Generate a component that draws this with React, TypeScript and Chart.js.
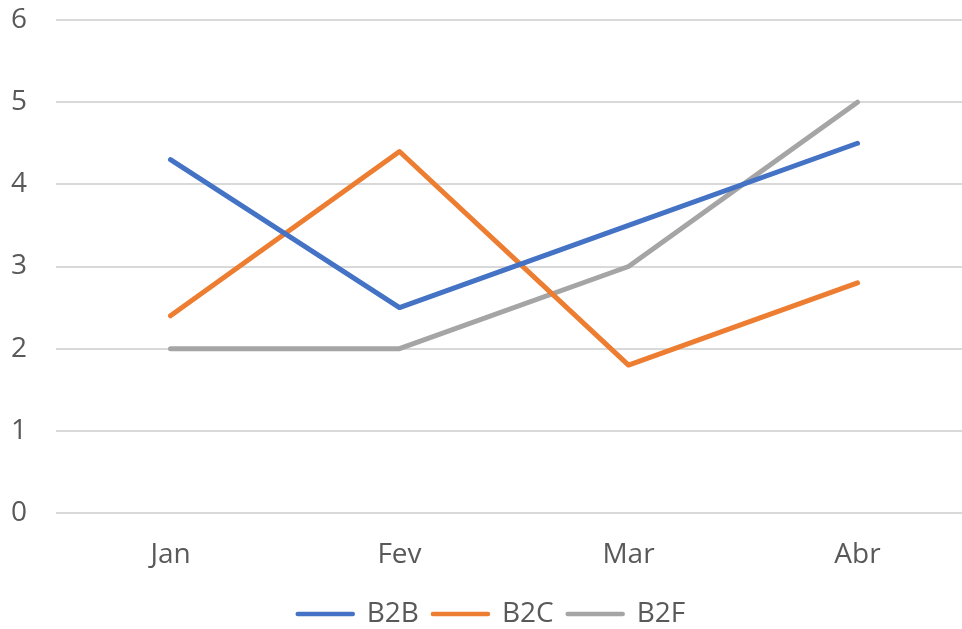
import React, { useEffect, useRef } from "react";
import { Chart, registerables } from "chart.js";

Chart.register(...registerables);

const categories = ["Jan", "Fev", "Mar", "Abr"];
const b2b = [4.3, 2.5, 3.5, 4.5];
const b2c = [2.4, 4.4, 1.8, 2.8];
const b2f = [2, 2, 3, 5];
const yTicks = [0, 1, 2, 3, 4, 5, 6];

const FONT = "'Open Sans', sans-serif";
const TEXT = "#595959";

export default function App() {
  const ref = useRef<HTMLCanvasElement | null>(null);
  useEffect(() => {
    if (!ref.current) return;
    const mk = (label: string, data: number[], color: string) => ({
      label,
      data,
      borderColor: color,
      backgroundColor: color,
      borderWidth: 5,
      borderCapStyle: "round" as const,
      borderJoinStyle: "round" as const,
      pointRadius: 0,
      pointHoverRadius: 0,
      tension: 0,
    });
    const chart = new Chart(ref.current, {
      type: "line",
      data: {
        labels: categories,
        datasets: [mk("B2B", b2b, "#4472C4"), mk("B2C", b2c, "#ED7D31"), mk("B2F", b2f, "#A5A5A5")],
      },
      options: {
        animation: false,
        responsive: false,
        devicePixelRatio: 1,
        layout: { padding: { left: 11, right: 25, top: 20, bottom: 0 } },
        plugins: {
          tooltip: { enabled: false },
          legend: {
            position: "bottom",
            labels: {
              usePointStyle: true,
              pointStyle: "line",
              pointStyleWidth: 55,
              boxHeight: 4,
              padding: 14,
              color: TEXT,
              font: { family: FONT, size: 28 },
              generateLabels: (c: any) =>
                c.data.datasets.map((d: any, i: number) => ({
                  text: d.label,
                  fillStyle: d.borderColor,
                  strokeStyle: d.borderColor,
                  lineWidth: 4.5,
                  lineCap: "round",
                  pointStyle: "line",
                  hidden: false,
                  datasetIndex: i,
                  fontColor: TEXT,
                })),
            },
          },
        },
        scales: {
          x: {
            offset: true,
            afterFit: (s: any) => {
              s.height = 73;
            },
            grid: { display: false, drawTicks: false },
            border: { display: false },
            ticks: { color: TEXT, font: { family: FONT, size: 28 }, padding: 25, maxRotation: 0 },
          },
          y: {
            min: 0,
            max: 6,
            afterBuildTicks: (s: any) => {
              s.ticks = yTicks.map((v) => ({ value: v }));
            },
            afterFit: (s: any) => {
              s.width = 45;
            },
            grid: { color: "#d9d9d9", lineWidth: 2, drawTicks: false },
            border: { display: false },
            ticks: { color: TEXT, font: { family: FONT, size: 28 }, padding: 0, crossAlign: "far" },
          },
        },
      },
    });
    return () => chart.destroy();
  }, []);
  return (
    <div style={{ position: "fixed", left: 0, top: 0, width: 962, height: 629, overflow: "hidden", background: "#fff" }}>
      <canvas ref={ref} width={997} height={638} style={{ display: "block" }} />
    </div>
  );
}
